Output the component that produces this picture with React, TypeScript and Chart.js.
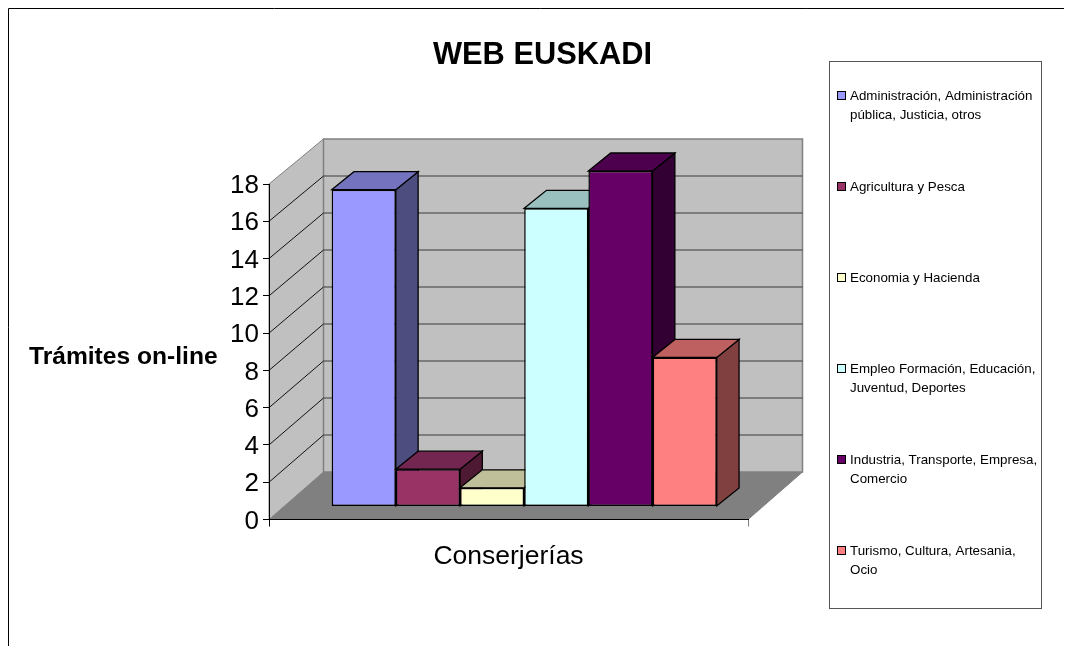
import React, { useEffect, useRef } from "react";
import { Chart, registerables } from "chart.js";

Chart.register(...registerables);

const categories = ["Conserjerías"];
const seriesNames = [
  "Administración, Administración pública, Justicia, otros",
  "Agricultura y Pesca",
  "Economia y Hacienda",
  "Empleo Formación, Educación, Juventud, Deportes",
  "Industria, Transporte, Empresa, Comercio",
  "Turismo, Cultura, Artesania, Ocio",
];
const values = [17, 2, 1, 16, 18, 8];
const frontColors = ["#9999FF", "#993366", "#FFFFCC", "#CCFFFF", "#660066", "#FF8080"];
const topColors = ["#7373BF", "#732650", "#BFBF99", "#99BFBF", "#4D004D", "#BF6060"];
const sideColors = ["#4D4D80", "#4D1933", "#808066", "#668080", "#330033", "#804040"];
const legendLines = [
  ["Administración, Administración", "pública, Justicia, otros"],
  ["Agricultura y Pesca"],
  ["Economia y Hacienda"],
  ["Empleo Formación, Educación,", "Juventud, Deportes"],
  ["Industria, Transporte, Empresa,", "Comercio"],
  ["Turismo, Cultura, Artesania,", "Ocio"],
];
const yTicksMax = 18;
const yStep = 2;

const FONT = '"Liberation Sans", Arial, sans-serif';

function poly(ctx: CanvasRenderingContext2D, pts: number[][], fill: string, stroke: string, lw = 1) {
  ctx.beginPath();
  pts.forEach((p, i) => (i ? ctx.lineTo(p[0], p[1]) : ctx.moveTo(p[0], p[1])));
  ctx.closePath();
  ctx.fillStyle = fill;
  ctx.fill();
  ctx.strokeStyle = stroke;
  ctx.lineWidth = lw;
  ctx.stroke();
}

const scene3d = {
  id: "scene3d",
  beforeDraw(chart: any) {
    const { ctx, chartArea: a, scales } = chart;
    const y = scales.y;
    const bx = 54.5;
    const backY = (v: number) => y.getPixelForValue(v) - 47.5 + (v / yTicksMax) * 2.5;
    ctx.save();
    // outer chart border
    ctx.strokeStyle = "#000";
    ctx.lineWidth = 1;
    ctx.beginPath();
    ctx.moveTo(0.5, 640);
    ctx.lineTo(0.5, 0.5);
    ctx.lineTo(1064, 0.5);
    ctx.stroke();
    // walls
    const L = a.left, R = a.right, B = y.getPixelForValue(0), T = y.getPixelForValue(yTicksMax);
    poly(ctx, [[L, B], [L + bx, backY(0)], [R + bx, backY(0)], [R, B]], "#808080", "#808080");
    poly(ctx, [[L, B], [L, T], [L + bx, backY(yTicksMax)], [L + bx, backY(0)]], "#C0C0C0", "#808080");
    poly(ctx, [[L + bx, backY(0)], [L + bx, backY(yTicksMax)], [R + bx, backY(yTicksMax)], [R + bx, backY(0)]], "#C0C0C0", "#808080", 1.5);
    // gridlines on the walls
    for (let v = yStep; v < yTicksMax; v += yStep) {
      ctx.strokeStyle = "#111";
      ctx.lineWidth = 1;
      ctx.beginPath();
      ctx.moveTo(L, y.getPixelForValue(v));
      ctx.lineTo(L + bx, backY(v));
      ctx.stroke();
      ctx.strokeStyle = "#3a3a3a";
      ctx.lineWidth = 1.2;
      ctx.beginPath();
      ctx.moveTo(L + bx, backY(v));
      ctx.lineTo(R + bx, backY(v));
      ctx.stroke();
    }
    ctx.restore();
  },
  beforeDatasetsDraw(chart: any) {
    const ctx = chart.ctx;
    const shiftX = 15.7, shiftY = -13;
    const dx = 22.3, dy = -18;
    ctx.save();
    ctx.translate(shiftX, shiftY);
    values.forEach((_, i) => {
      const el = chart.getDatasetMeta(i).data[0];
      const { x, y, base, width } = el.getProps(["x", "y", "base", "width"], true);
      const l = x - width / 2, r = x + width / 2;
      poly(ctx, [[r, y], [r + dx, y + dy], [r + dx, base + dy], [r, base]], sideColors[i], "#000", 1.3);
      poly(ctx, [[l, y], [l + dx, y + dy], [r + dx, y + dy], [r, y]], topColors[i], "#000", 1.3);
      el.draw(ctx, chart.chartArea);
    });
    ctx.restore();
    return false;
  },
  afterDraw(chart: any) {
    const ctx = chart.ctx;
    ctx.save();
    ctx.translate(-8, -8);
    // axis title, horizontal
    ctx.fillStyle = "#000";
    ctx.font = `bold 24.6px ${FONT}`;
    ctx.textBaseline = "middle";
    ctx.textAlign = "left";
    ctx.fillText("Trámites on-line", 29, 357);
    // legend
    ctx.strokeStyle = "#555";
    ctx.lineWidth = 1;
    ctx.strokeRect(829.5, 61.5, 212, 547);
    ctx.font = `13.35px ${FONT}`;
    legendLines.forEach((lines, i) => {
      const y0 = 96 + 91 * i;
      ctx.fillStyle = frontColors[i];
      ctx.strokeStyle = "#000";
      ctx.fillRect(837.5, y0 - 4.5, 8, 8);
      ctx.strokeRect(837.5, y0 - 4.5, 8, 8);
      ctx.fillStyle = "#000";
      lines.forEach((t, k) => ctx.fillText(t, 850, y0 + k * 19.5));
    });
    ctx.restore();
  },
};

export default function App() {
  const ref = useRef<HTMLCanvasElement>(null);
  useEffect(() => {
    document.documentElement.style.overflow = "hidden";
    const chart = new Chart(ref.current!, {
      type: "bar",
      data: {
        labels: categories,
        datasets: seriesNames.map((name, i) => ({
          label: name,
          data: [values[i]],
          yAxisID: "y",
          backgroundColor: frontColors[i],
          borderColor: "#000",
          borderWidth: 1.5,
          borderSkipped: false,
          barPercentage: 1,
          categoryPercentage: 0.804,
        })),
      },
      options: {
        responsive: false,
        animation: false,
        devicePixelRatio: 1,
        layout: { padding: { left: 5 } },
        plugins: {
          legend: { display: false },
          tooltip: { enabled: false },
          title: {
            display: true,
            text: "WEB EUSKADI",
            color: "#000",
            font: { family: FONT, size: 30.8, weight: "bold", lineHeight: 1.2 },
            padding: { top: 29.5, bottom: 109.54 },
          },
        },
        scales: {
          x: {
            afterFit: (s: any) => { s.height = 126.5; },
            border: { color: "#000" },
            grid: {
              offset: true,
              drawOnChartArea: false,
              tickLength: 7,
              tickColor: (c: any) => (c.index === 0 ? "#000" : "#808080"),
            },
            ticks: { color: "#000", font: { family: FONT, size: 26.5 }, padding: 14, maxRotation: 0 },
          },
          y: {
            min: 0,
            max: yTicksMax,
            afterFit: (s: any) => { s.width = 256; },
            border: { color: "#000" },
            grid: { drawOnChartArea: false, tickLength: 6, tickColor: "#000" },
            ticks: { stepSize: yStep, color: "#000", font: { family: FONT, size: 26 }, padding: 4, labelOffset: 2 },
          },
          // empty axis that reserves the column holding the legend box
          gutter: {
            position: "right",
            afterFit: (s: any) => { s.width = 324; },
            border: { display: false },
            grid: { display: false },
            ticks: { display: false },
          },
        },
      },
      plugins: [scene3d],
    } as any);
    return () => chart.destroy();
  }, []);
  return <canvas ref={ref} width={1064} height={638} style={{ display: "block" }} />;
}
